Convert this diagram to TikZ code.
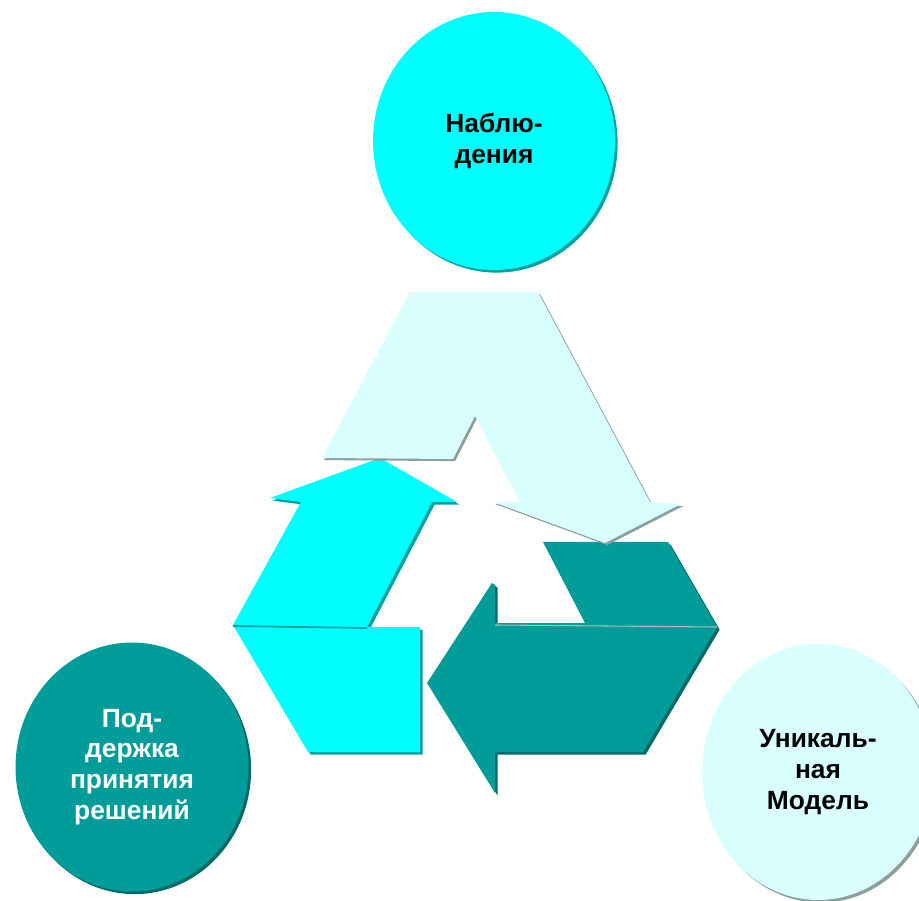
\documentclass[tikz,border=0pt]{standalone}
\usepackage{fontspec}
\setmainfont{Liberation Sans}
\usepackage{tikz}
\usetikzlibrary{
  shapes.geometric,
  shadows
}
\usepackage{xcolor}
\definecolor{paleCyan}{rgb}{0.85,1,1}
\definecolor{brightCyan}{rgb}{0,1,1}
\definecolor{seaTeal}{rgb}{0,0.61,0.6}
\definecolor{deepTeal}{rgb}{0,0.42,0.4}
\definecolor{midTeal}{rgb}{0,0.63,0.63}
\definecolor{greyTeal}{rgb}{0.55,0.62,0.62}
\tikzset{
  bubble/.style={
    ellipse,
    inner sep=0pt,
    align=center,
    font=\fontsize{15}{17.5}\selectfont\bfseries
  }
}

\begin{document}
\begin{tikzpicture}[x=0.02cm, y=-0.02cm]

      \useasboundingbox (0,0) rectangle (919,901);

      % circles
      \node[bubble, fill=brightCyan, minimum width=4.84cm, minimum height=5.16cm,
        drop shadow={fill=midTeal, shadow xshift=1.5pt, shadow yshift=-1.5pt, opacity=1}]
        (obs) at (494,141) {Наблю-\\дения};
      \node[bubble, fill=seaTeal, text=white, minimum width=4.66cm, minimum height=4.98cm,
        drop shadow={fill=deepTeal, shadow xshift=1.5pt, shadow yshift=-1.5pt, opacity=1}]
        (supp) at (132,767) {Под-\\держка\\принятия\\решений};
      \node[bubble, fill=paleCyan, minimum width=4.64cm, minimum height=5.12cm,
        drop shadow={fill=greyTeal, shadow xshift=1.5pt, shadow yshift=-1.5pt, opacity=1}]
        (model) at (818,772) {Уникаль-\\ная\\Модель};

      % teal arrow
      \fill[deepTeal, xshift=1.5pt, yshift=-1.5pt]
        (543,542) -- (668,542) -- (717,627) -- (643,752) -- (495,752) -- (495,793)
        -- (427,683) -- (492,583) -- (495,585) -- (495,623) -- (585,623) -- cycle;
      \fill[seaTeal]
        (543,542) -- (668,542) -- (717,627) -- (643,752) -- (495,752) -- (495,793)
        -- (427,683) -- (492,583) -- (495,585) -- (495,623) -- (585,623) -- cycle;
      \draw[greyTeal!70, line width=0.6pt] (495,625) -- (717,627);

      % cyan arrow
      \fill[midTeal, xshift=1.5pt, yshift=-1.5pt]
        (380,458) -- (270,498) -- (301,502) -- (233,625) -- (308,752) -- (420,752)
        -- (420,627) -- (367,627) -- (432,502) -- (457,502) -- cycle;
      \fill[brightCyan]
        (380,458) -- (270,498) -- (301,502) -- (233,625) -- (308,752) -- (420,752)
        -- (420,627) -- (367,627) -- (432,502) -- (457,502) -- cycle;
      \draw[midTeal, line width=1pt] (233,626) -- (367,628);

      % pale arrow
      \fill[greyTeal, xshift=1.2pt, yshift=-1.2pt]
        (322,458) -- (410,292) -- (538,292) -- (650,502) -- (681,504) -- (605,543)
        -- (493,502) -- (520,502) -- (475,416) -- (453,459) -- cycle;
      \fill[paleCyan]
        (322,458) -- (410,292) -- (538,292) -- (650,502) -- (681,504) -- (605,543)
        -- (493,502) -- (520,502) -- (475,416) -- (453,459) -- cycle;
      \draw[white!85!greyTeal, line width=0.4pt] (410,292) -- (475,416);

\end{tikzpicture}
\end{document}
